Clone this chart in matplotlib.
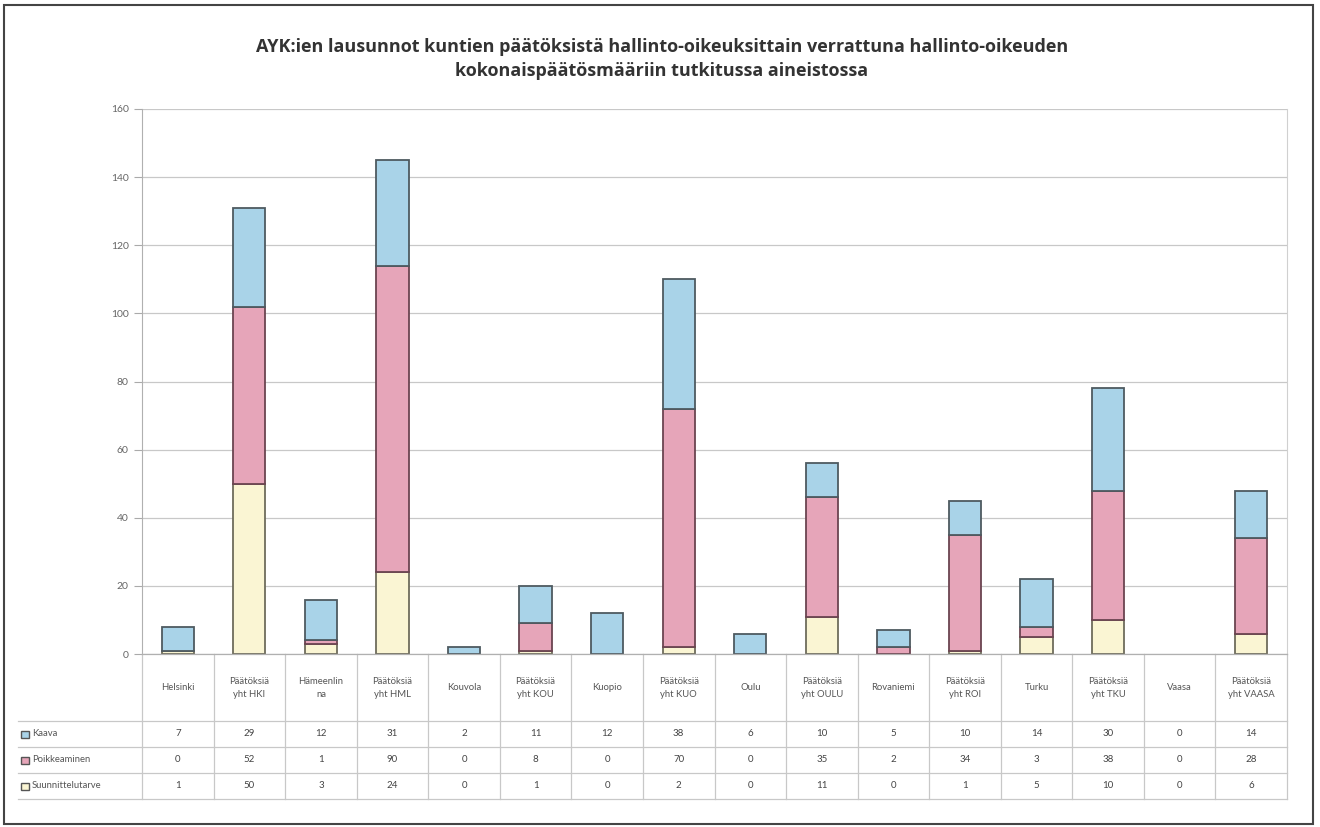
import matplotlib
matplotlib.use("Agg")
import matplotlib.pyplot as plt
import matplotlib.transforms as mtransforms
from matplotlib.lines import Line2D
from matplotlib.patches import Rectangle
import numpy as np

plt.rcParams['font.family'] = ['Lato', 'DejaVu Sans']

categories = [
    "Helsinki", "Päätöksiä\nyht HKI", "Hämeenlin\nna", "Päätöksiä\nyht HML",
    "Kouvola", "Päätöksiä\nyht KOU", "Kuopio", "Päätöksiä\nyht KUO",
    "Oulu", "Päätöksiä\nyht OULU", "Rovaniemi", "Päätöksiä\nyht ROI",
    "Turku", "Päätöksiä\nyht TKU", "Vaasa", "Päätöksiä\nyht VAASA",
]
kaava = [7, 29, 12, 31, 2, 11, 12, 38, 6, 10, 5, 10, 14, 30, 0, 14]
poikkeaminen = [0, 52, 1, 90, 0, 8, 0, 70, 0, 35, 2, 34, 3, 38, 0, 28]
suunnittelutarve = [1, 50, 3, 24, 0, 1, 0, 2, 0, 11, 0, 1, 5, 10, 0, 6]
series_names = ["Kaava", "Poikkeaminen", "Suunnittelutarve"]
colors = ["#a9d3e8", "#e6a5b9", "#faf5d3"]
edges = ["#4e5a60", "#6b4450", "#6e6c5c"]

title = ("AYK:ien lausunnot kuntien päätöksistä hallinto-oikeuksittain verrattuna hallinto-oikeuden\n"
         "kokonaispäätösmääriin tutkitussa aineistossa")

W, H = 1320, 827
fig = plt.figure(figsize=(W / 100, H / 100), dpi=100)


def fx(px):
    return px / W


def fy(py):
    return 1 - py / H


ax_left, ax_right, ax_top, ax_bot = 142, 1287, 109, 654
ax = fig.add_axes([fx(ax_left), fy(ax_bot), fx(ax_right - ax_left), fy(ax_top) - fy(ax_bot)])

x = np.arange(len(categories))
bottom = np.zeros(len(categories))
for vals, c, e in zip([suunnittelutarve, poikkeaminen, kaava], colors[::-1], edges[::-1]):
    vals = np.array(vals)
    keep = vals > 0  # empty segments are not drawn
    ax.bar(x[keep], vals[keep], bottom=bottom[keep], width=0.45, color=c, edgecolor=e,
           linewidth=1.3, zorder=3)
    bottom += vals

ax.set_xlim(-0.5, len(categories) - 0.5)
ax.set_ylim(0, 160)
ax.set_yticks(range(0, 161, 20))
ax.yaxis.grid(True, color="#c8c8c8", linewidth=0.9, zorder=0)
ax.set_xticks([])
ax.tick_params(axis="y", labelsize=7.5, labelcolor="#666666", color="#aaaaaa", length=6, width=0.8)
for s in ["top", "bottom"]:
    ax.spines[s].set_visible(False)
ax.spines["left"].set_color("#b0b0b0")
ax.spines["right"].set_color("#d0d0d0")

fig.text(fx(662), fy(59), title, ha="center", va="center", fontsize=13,
         fontweight="bold", color="#333333", linespacing=1.4, family=["Open Sans", "DejaVu Sans"])

# data table under the chart
tr = mtransforms.blended_transform_factory(ax.transData, fig.transFigure)
grid_c = "#c8c8c8"
row_lines = [721, 747, 773, 799]
for i in range(len(categories) + 1):
    fig.add_artist(Line2D([i - 0.5, i - 0.5], [fy(654), fy(799)], transform=tr,
                          color=grid_c, linewidth=0.9))
for py in row_lines:
    fig.add_artist(Line2D([fx(18), fx(ax_right)], [fy(py), fy(py)],
                          transform=fig.transFigure, color=grid_c, linewidth=0.9))
fig.add_artist(Line2D([fx(ax_left), fx(ax_right)], [fy(654), fy(654)],
                      transform=fig.transFigure, color="#b0b0b0", linewidth=0.9))

for i, lab in enumerate(categories):
    fig.text(i, fy(688), lab, transform=tr, ha="center", va="center",
             fontsize=6.8, color="#555555", linespacing=1.6)

table_rows = [kaava, poikkeaminen, suunnittelutarve]
for r, (name, vals) in enumerate(zip(series_names, table_rows)):
    yc = (fy(row_lines[r]) + fy(row_lines[r + 1])) / 2
    fig.add_artist(Rectangle((fx(21), yc - 3.5 / H), 8 / W, 7 / H, transform=fig.transFigure,
                             facecolor=colors[r], edgecolor="#555555", linewidth=1.0))
    fig.text(fx(32), yc, name, ha="left", va="center", fontsize=6.8, color="#555555")
    for i, v in enumerate(vals):
        fig.text(i, yc, str(v), transform=tr, ha="center", va="center",
                 fontsize=7, color="#444444")

# outer frame
fig.add_artist(Rectangle((fx(4), fy(824)), fx(1309), fy(5) - fy(824), transform=fig.transFigure,
                         fill=False, edgecolor="#444444", linewidth=1.5))

fig.savefig("out.png", dpi=100)
